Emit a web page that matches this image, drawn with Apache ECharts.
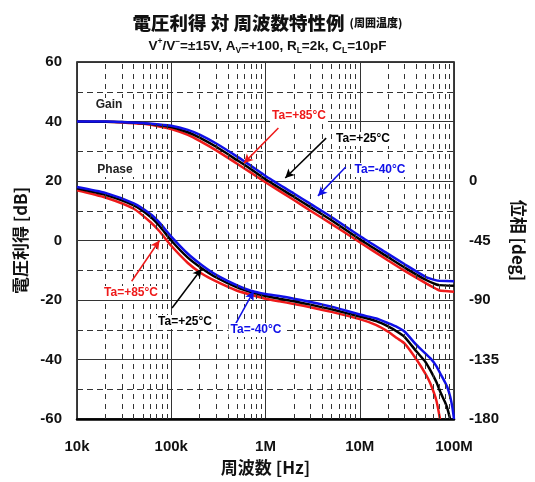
<!DOCTYPE html>
<html>
<head>
<meta charset="utf-8">
<script src="https://cdn.jsdelivr.net/npm/echarts@6/dist/echarts.min.js"></script>
<style>
html, body { margin: 0; padding: 0; background: #fff; }
#main { width: 535px; height: 482px; }
</style>
</head>
<body>
<div id="main"></div>
<script>
// frequency axis tick labels
var freqTicks = { 10000: '10k', 100000: '100k', 1000000: '1M', 10000000: '10M', 100000000: '100M' };

// gain [Hz, dB]
var gain85 = [[1e4,40],[2e4,39.9],[3e4,39.7],[5e4,39.2],[7e4,38.5],[1e5,37.5],[1.5e5,35.5],[2e5,33.5],[3e5,30.3],[5e5,25.8],[7e5,22.8],[1e6,19.6],[2e6,13.6],[3e6,10],[5e6,5.6],[1e7,-0.6],[2e7,-6.7],[3e7,-10.2],[5e7,-14.3],[6.5e7,-16.3],[7e7,-16.8],[8e7,-17],[1e8,-17.2]];
var gain25 = [[1e4,40],[2e4,39.9],[3e4,39.8],[5e4,39.4],[7e4,38.9],[1e5,38.1],[1.5e5,36.4],[2e5,34.6],[3e5,31.5],[5e5,27],[7e5,24],[1e6,20.6],[2e6,14.7],[3e6,11.2],[5e6,6.8],[1e7,0.4],[2e7,-5.6],[3e7,-9.1],[5e7,-13.2],[6.5e7,-14.8],[7e7,-15],[1e8,-15.2]];
var gainM40 = [[1e4,40],[2e4,40],[3e4,39.8],[5e4,39.5],[7e4,39.1],[1e5,38.6],[1.5e5,37.2],[2e5,35.6],[3e5,32.6],[5e5,28.2],[7e5,25.1],[1e6,21.7],[2e6,15.8],[3e6,12.3],[5e6,7.9],[1e7,1.5],[2e7,-4.5],[3e7,-8],[5e7,-12.2],[6.5e7,-13.4],[7e7,-13.5],[1e8,-13.7]];

// phase [Hz, deg]
var phase85 = [[1e4,-7],[2e4,-12.5],[4e4,-21],[6e4,-31],[7.5e4,-38],[1e5,-49],[1.5e5,-62],[2.1e5,-70],[3e5,-76],[5e5,-83],[7e5,-86],[1e6,-89],[1.4e6,-91],[2e6,-93],[3e6,-95.5],[5e6,-99],[1e7,-104.5],[1.5e7,-109],[2e7,-114],[2.5e7,-119],[3e7,-123],[4e7,-135],[5e7,-146],[5.6e7,-153],[6.5e7,-166],[7.1e7,-180]];
var phase25 = [[1e4,-5.5],[2e4,-10.5],[4e4,-18.5],[6e4,-27],[7.5e4,-34],[1e5,-45],[1.5e5,-58],[2.1e5,-66],[3e5,-73],[5e5,-80.5],[7e5,-84],[1e6,-87],[1.4e6,-89],[2e6,-91],[3e6,-93.5],[5e6,-97],[1e7,-102.5],[1.5e7,-106],[2e7,-110],[2.5e7,-114],[3e7,-118],[4e7,-129],[5e7,-137],[5.6e7,-143],[6.5e7,-152],[7.2e7,-160],[8e7,-167],[8.5e7,-172],[9.1e7,-180]];
var phaseM40 = [[1e4,-4.5],[2e4,-9],[4e4,-17],[6e4,-25],[7.5e4,-31.5],[1e5,-42],[1.5e5,-55],[2.1e5,-63.5],[3e5,-71],[5e5,-79],[7e5,-83],[1e6,-85.5],[1.4e6,-87],[2e6,-89],[3e6,-91.5],[5e6,-95],[1e7,-101],[1.5e7,-104],[2e7,-107.5],[2.5e7,-110.5],[3e7,-114],[4e7,-124],[5.6e7,-134],[6.5e7,-140],[7.2e7,-146],[8e7,-152],[8.5e7,-156],[9.1e7,-163],[9.6e7,-171],[1e8,-180]];

var RED = '#ee1a1a', BLACK = '#000000', BLUE = '#1010e8';
var FONT = 'Liberation Sans';
var CJK = 'Noto Sans CJK JP';

// minor vertical grid lines at 2..9 of each decade
var minorX = [];
[1e4, 1e5, 1e6, 1e7].forEach(function (d) {
  for (var k = 2; k <= 9; k++) minorX.push({ xAxis: k * d });
});

function arrow(color, from, to) {
  return {
    silent: true,
    symbol: ['none', 'arrow'],
    symbolSize: [7, 9],
    label: { show: false },
    lineStyle: { color: color, width: 1.5, type: 'solid' },
    data: [[{ coord: from }, { coord: to }]]
  };
}

function curve(name, data, color, yIdx, mark) {
  var s = {
    name: name,
    type: 'line',
    yAxisIndex: yIdx,
    data: data,
    showSymbol: false,
    smooth: 0.2,
    z: 3,
    lineStyle: { color: color, width: 2.5 }
  };
  if (mark) s.markLine = mark;
  return s;
}

function txt(s, x, y, color) {
  return {
    type: 'text', x: x, y: y, z: 10,
    style: {
      text: s, fill: color, font: 'bold 12px "' + FONT + '"', align: 'center', verticalAlign: 'middle',
      backgroundColor: '#fff', padding: [1, 2]
    }
  };
}

var nameStyle = { fontFamily: CJK, fontWeight: 'bold', fontSize: 17, color: '#111' };

var chart = echarts.init(document.getElementById('main'));
chart.setOption({
  animation: false,
  backgroundColor: '#fff',
  title: {
    text: '{m|電圧利得 対 周波数特性例} {s|(周囲温度)}',
    subtext: '{n|V}{p|+}{n|/V}{p|−}{n|=±15V, A}{b|V}{n|=+100, R}{b|L}{n|=2k, C}{b|L}{n|=10pF}',
    left: 'center',
    top: 9,
    itemGap: 5,
    textStyle: {
      rich: {
        m: { fontFamily: CJK, fontWeight: 900, fontSize: 18.5, color: '#111' },
        s: { fontFamily: CJK, fontWeight: 900, fontSize: 11, color: '#111' }
      }
    },
    subtextStyle: {
      rich: {
        n: { fontFamily: FONT, fontWeight: 'bold', fontSize: 13.5, color: '#111', lineHeight: 18 },
        p: { fontFamily: FONT, fontWeight: 'bold', fontSize: 8.5, color: '#111', verticalAlign: 'top', lineHeight: 18 },
        b: { fontFamily: FONT, fontWeight: 'bold', fontSize: 8.5, color: '#111', verticalAlign: 'bottom', lineHeight: 18 }
      }
    }
  },
  grid: { left: 77, right: 78, top: 62, bottom: 63, show: true, borderColor: '#000', borderWidth: 1.5 },
  xAxis: {
    type: 'log',
    logBase: 10,
    min: 1e4,
    max: 1e8,
    name: '周波数 [Hz]',
    nameLocation: 'middle',
    nameGap: 40,
    nameTextStyle: nameStyle,
    axisLine: { show: true, onZero: false, lineStyle: { color: '#000', width: 2.5 } },
    axisTick: { show: false },
    axisLabel: {
      margin: 20, fontFamily: FONT, fontWeight: 'bold', fontSize: 15, color: '#111',
      formatter: function (v) { return freqTicks[Math.round(v)] || ''; }
    },
    splitLine: { show: true, lineStyle: { color: '#333', width: 1 } }
  },
  yAxis: [{
    type: 'value',
    min: -60, max: 60, interval: 20,
    name: '電圧利得 [dB]',
    nameLocation: 'middle',
    nameRotate: 90,
    nameGap: 48,
    nameTextStyle: nameStyle,
    axisLine: { show: false },
    axisTick: { show: false },
    axisLabel: { margin: 15, fontFamily: FONT, fontWeight: 'bold', fontSize: 15, color: '#111' },
    splitLine: { show: true, lineStyle: { color: '#333', width: 1 } },
    minorTick: { show: false, splitNumber: 2 },
    minorSplitLine: { show: true, lineStyle: { color: '#333', width: 1, type: [6, 4] } }
  }, {
    type: 'value',
    position: 'right',
    min: -180, max: 90, interval: 45,
    name: '位相 [deg]',
    nameLocation: 'middle',
    nameRotate: -90,
    nameGap: 56,
    nameTextStyle: nameStyle,
    axisLine: { show: false },
    axisTick: { show: false },
    axisLabel: {
      margin: 15, fontFamily: FONT, fontWeight: 'bold', fontSize: 15, color: '#111',
      formatter: function (v) { return v > 0 ? '' : String(v); }
    },
    splitLine: { show: false }
  }],
  series: [
    {
      name: 'grid', type: 'line', data: [], z: 1, silent: true,
      markLine: {
        silent: true, symbol: ['none', 'none'], label: { show: false },
        lineStyle: { color: '#333', width: 1, type: [5, 5] },
        data: minorX
      }
    },
    curve('gain85', gain85, RED, 0, arrow(RED, [1.37e6, 37.8], [5.9e5, 26])),
    curve('gain25', gain25, BLACK, 0, arrow(BLACK, [4.4e6, 34.4], [1.62e6, 21])),
    curve('gainM40', gainM40, BLUE, 0, arrow(BLUE, [7.1e6, 24.7], [3.6e6, 15])),
    curve('phase85', phase85, RED, 1),
    curve('phase25', phase25, BLACK, 1),
    curve('phaseM40', phaseM40, BLUE, 1),
    {
      name: 'phaseArrows', type: 'line', data: [], z: 4, yAxisIndex: 0,
      markLine: {
        silent: true, symbol: ['none', 'arrow'], symbolSize: [7, 9], label: { show: false },
        data: [
          [{ coord: [3.8e4, -13.7], lineStyle: { color: RED, width: 1.5, type: 'solid' } }, { coord: [7.5e4, 0] }],
          [{ coord: [1.02e5, -22.7], lineStyle: { color: BLACK, width: 1.5, type: 'solid' } }, { coord: [2.1e5, -9.5] }],
          [{ coord: [4.8e5, -28.1], lineStyle: { color: BLUE, width: 1.5, type: 'solid' } }, { coord: [7.5e5, -17] }]
        ]
      }
    }
  ],
  graphic: [
    txt('Gain', 109, 105, '#222'),
    txt('Phase', 115, 170, '#222'),
    txt('Ta=+85°C', 299, 116, RED),
    txt('Ta=+25°C', 363, 139, BLACK),
    txt('Ta=-40°C', 380, 170, BLUE),
    txt('Ta=+85°C', 131, 293, RED),
    txt('Ta=+25°C', 185, 322, BLACK),
    txt('Ta=-40°C', 256, 330, BLUE)
  ]
});
</script>
</body>
</html>
